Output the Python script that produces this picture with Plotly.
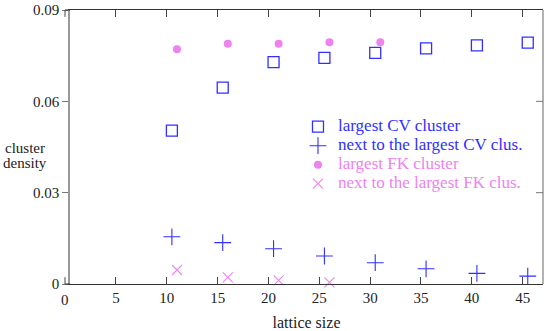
import plotly.graph_objects as go

# ---- data ----
cv_x = [10.5, 15.5, 20.5, 25.5, 30.5, 35.5, 40.5, 45.5]
cv_largest = [0.0504, 0.0645, 0.0729, 0.0743, 0.0759, 0.0774, 0.0784, 0.0793]
cv_next = [0.0155, 0.0136, 0.0116, 0.0092, 0.0070, 0.0050, 0.0035, 0.0026]
fk_x = [11, 16, 21, 26, 31]
fk_largest = [0.0771, 0.0789, 0.0789, 0.0794, 0.0794]
fk_x_next = [11, 16, 21, 26]
fk_next = [0.0046, 0.0022, 0.0012, 0.0005]
x_ticks = [5, 10, 15, 20, 25, 30, 35, 40, 45]
y_ticks = [0, 0.03, 0.06, 0.09]
y_tick_labels = ["0", "0.03", "0.06", "0.09"]
series_names = ["largest CV cluster", "next to the largest CV clus.",
                "largest FK cluster", "next to the largest FK clus."]

BLUE = "#3030ff"
PINK = "#ee82ee"
FONT = "Liberation Serif"


def lbl(text, color):
    return f'<span style="color:{color};font-size:17px">{text}</span>'


fig = go.Figure()
fig.add_trace(go.Scatter(x=cv_x, y=cv_largest, mode="markers", cliponaxis=False,
                         name=lbl(series_names[0], BLUE),
                         marker=dict(symbol="square-open", size=11, color=BLUE, line=dict(width=1.3, color=BLUE))))
fig.add_trace(go.Scatter(x=cv_x, y=cv_next, mode="markers", cliponaxis=False,
                         name=lbl(series_names[1], BLUE),
                         marker=dict(symbol="cross-thin-open", size=12, color=BLUE, line=dict(width=1.1, color=BLUE))))
fig.add_trace(go.Scatter(x=fk_x, y=fk_largest, mode="markers", cliponaxis=False,
                         name=lbl(series_names[2], PINK),
                         marker=dict(symbol="circle", size=8, color=PINK)))
fig.add_trace(go.Scatter(x=fk_x_next, y=fk_next, mode="markers", cliponaxis=False,
                         name=lbl(series_names[3], PINK),
                         marker=dict(symbol="x-thin-open", size=10, color=PINK, line=dict(width=1.1, color=PINK))))

L, R, T, B = 70, 2, 6, 45
W, H = 545, 331
pw = W - L - R
ph = H - T - B
x0_paper = -5 / pw  # position of x = 0 (outside left of the plot frame)

fig.update_layout(
    width=W, height=H,
    margin=dict(l=L, r=R, t=T, b=B),
    paper_bgcolor="white", plot_bgcolor="white",
    font=dict(family=FONT, size=15, color="#222"),
    showlegend=True,
    legend=dict(x=0.482, y=0.47, xanchor="left", yanchor="middle",
                bgcolor="rgba(0,0,0,0)", borderwidth=0,
                font=dict(family=FONT, size=11), tracegroupgap=0,
                itemwidth=30),
    xaxis=dict(range=[0.48, 47.0], tickmode="array", tickvals=x_ticks,
               ticks="inside", ticklen=7, tickwidth=1, tickcolor="#444",
               showline=True, linecolor="#333", linewidth=1, mirror="ticks",
               showgrid=False, zeroline=False,
               tickfont=dict(family=FONT, size=15, color="#222"),
               title=dict(text="lattice size", font=dict(family=FONT, size=16, color="#222"), standoff=12)),
    yaxis=dict(range=[0, 0.09], tickmode="array", tickvals=y_ticks, ticktext=y_tick_labels,
               ticks="outside", ticklen=6, tickwidth=1, tickcolor="#777",
               showline=True, linecolor="#999", linewidth=1.5,
               showgrid=False, zeroline=False, ticklabeloverflow="allow",
               tickfont=dict(family=FONT, size=15, color="#222")),
)

shapes = []
# extend top and bottom frame lines to x = 0
for yv in (0, 1):
    shapes.append(dict(type="line", xref="paper", yref="paper", x0=x0_paper, x1=0, y0=yv, y1=yv,
                       line=dict(color="#333", width=1)))
# x = 0 ticks (bottom up, top down)
tk = 7 / ph
shapes.append(dict(type="line", xref="paper", yref="paper", x0=x0_paper, x1=x0_paper, y0=0, y1=tk,
                   line=dict(color="#444", width=1)))
shapes.append(dict(type="line", xref="paper", yref="paper", x0=x0_paper, x1=x0_paper, y0=1 - tk, y1=1,
                   line=dict(color="#444", width=1)))
# right border (gray) with inward ticks
shapes.append(dict(type="line", xref="paper", yref="paper", x0=1, x1=1, y0=0, y1=1,
                   line=dict(color="#999", width=1.5)))
for yv in y_ticks[1:-1]:
    shapes.append(dict(type="line", xref="paper", yref="y", x0=1 - 7 / pw, x1=1, y0=yv, y1=yv,
                       line=dict(color="#777", width=1)))
fig.update_layout(shapes=shapes)

fig.add_annotation(text="0", xref="paper", yref="paper", x=x0_paper, y=0, yshift=-6,
                   xanchor="center", yanchor="top", showarrow=False,
                   font=dict(family=FONT, size=15, color="#222"))
for txt, ypix in (("cluster", 147), ("density", 162)):
    fig.add_annotation(text=txt, xref="paper", yref="paper",
                       x=(25 - L) / pw, y=(286 - ypix) / ph, xanchor="center", yanchor="middle",
                       showarrow=False, font=dict(family=FONT, size=15, color="#222"))

fig.write_html("out.html", config={"displayModeBar": False},
               post_script="document.body.style.margin='0';document.body.style.overflow='hidden';")
